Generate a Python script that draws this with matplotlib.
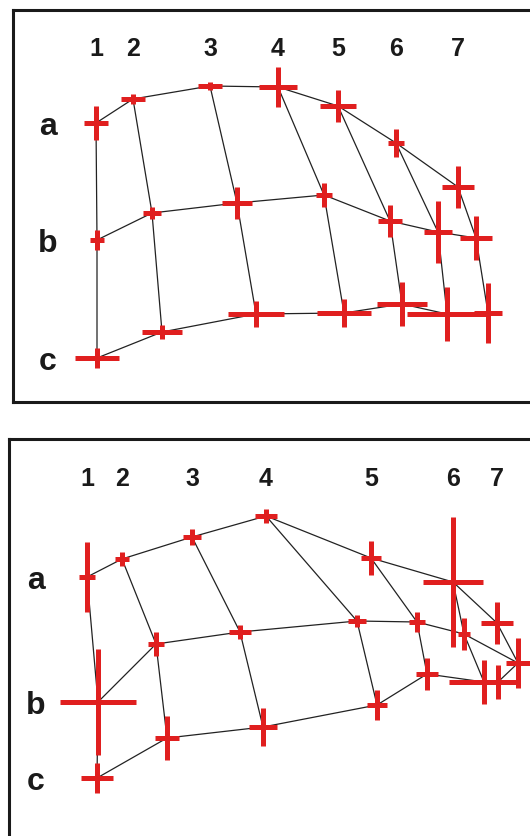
import numpy as np
import matplotlib.pyplot as plt

rows = ['a', 'b', 'c']
cols = ['1', '2', '3', '4', '5', '6', '7']

# upper grid: centre of each landmark (rows a, b, c; columns 1..7) and its spread
top_x = [[96, 133, 210, 278, 338, 396, 458],
         [97, 152, 237, 324, 390, 438, 476],
         [97, 162, 256, 344, 402, 447, 488]]
top_y = [[123, 99, 86, 87, 106, 143, 187],
         [240, 213, 203, 195, 221, 232, 238],
         [358, 332, 314, 313, 304, 314, 313]]
top_xerr = [[12, 12, 12, 19, 18, 8, 16],
            [7, 9, 15, 8, 12, 14, 16],
            [22, 20, 28, 27, 25, 40, 14]]
top_yerr = [[17, 5, 4, 20, 16, 14, 21],
            [10, 6, 16, 12, 16, 31, 22],
            [10, 7, 13, 14, 22, 27, 30]]

# lower grid
bot_x = [[87, 122, 192, 266, 371, 453, 497],
         [98, 156, 240, 357, 417, 464, 518],
         [97, 167, 263, 377, 427, 484, 498]]
bot_y = [[577, 559, 537, 516, 558, 582, 623],
         [702, 644, 632, 621, 622, 634, 663],
         [778, 738, 727, 705, 674, 682, 682]]
bot_xerr = [[8, 7, 9, 11, 10, 30, 16],
            [38, 8, 11, 9, 8, 6, 12],
            [16, 12, 14, 10, 11, 35, 20]]
bot_yerr = [[35, 7, 8, 7, 17, 65, 21],
            [53, 12, 7, 6, 10, 16, 25],
            [15, 22, 19, 15, 16, 22, 17]]

W, H = 530, 836
red = '#e01f1f'
ink = '#1a1a1a'

fig = plt.figure(figsize=(W / 100, H / 100), dpi=100)
fig.patch.set_facecolor('white')


def panel(left, top, right, bottom):
    ax = fig.add_axes([left / W, 1 - bottom / H, (right - left) / W, (bottom - top) / H])
    ax.set_xlim(left, right)
    ax.set_ylim(bottom, top)
    ax.set_xticks([])
    ax.set_yticks([])
    for s in ax.spines.values():
        s.set_linewidth(2.2)
        s.set_color(ink)
    return ax


def draw_grid(ax, x, y, xerr, yerr, label_x, digit_y):
    x = np.array(x)
    y = np.array(y)
    for i in range(len(rows)):
        ax.plot(x[i], y[i], color='#222222', lw=0.9, zorder=1)
    for j in range(len(cols)):
        ax.plot(x[:, j], y[:, j], color='#222222', lw=0.9, zorder=1)
    ax.errorbar(x.ravel(), y.ravel(), xerr=np.ravel(xerr), yerr=np.ravel(yerr),
                fmt='none', ecolor=red, elinewidth=3.6, capsize=0, zorder=2)
    for j, c in enumerate(cols):
        ax.text(x[0, j], digit_y, c, ha='center', va='center', fontsize=18,
                fontweight='bold', family='Liberation Sans', color=ink)
    for i, r in enumerate(rows):
        ax.text(label_x, y[i, 0] + 4, r, ha='center', va='center', fontsize=23,
                fontweight='bold', family='Liberation Sans', color=ink)


ax1 = panel(13, 10, 540, 402)
draw_grid(ax1, top_x, top_y, top_xerr, top_yerr, 48, 49)

ax2 = panel(9, 439, 540, 850)
draw_grid(ax2, bot_x, bot_y, bot_xerr, bot_yerr, 36, 479)

fig.savefig('out.png', dpi=100)
print("Graph exported to out.png")
